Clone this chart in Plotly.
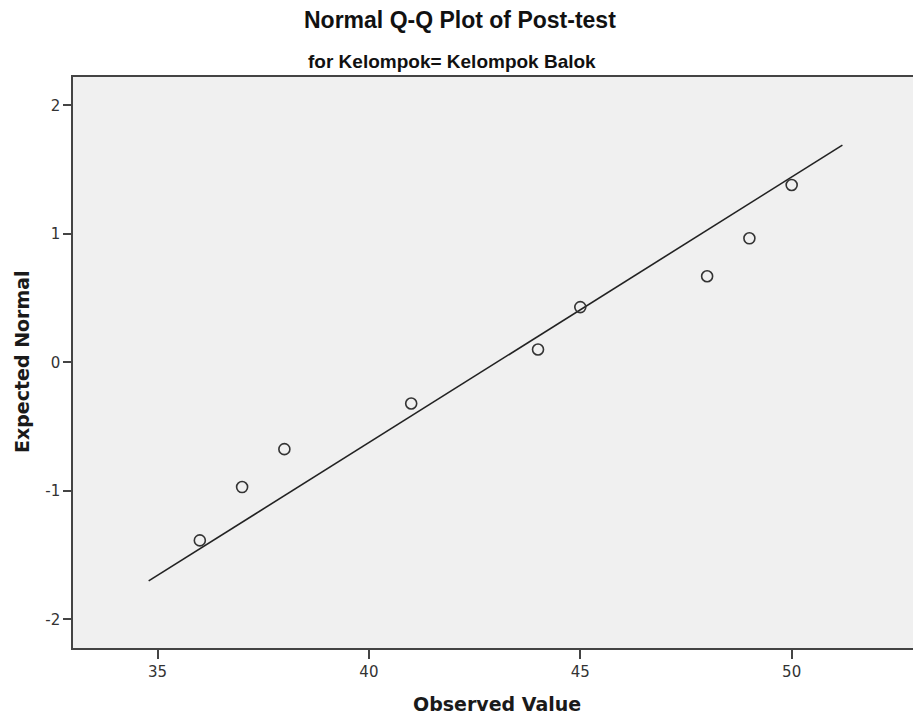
import plotly.graph_objects as go

observed = [36, 37, 38, 41, 44, 45, 48, 49, 50]
expected = [-1.385, -0.97, -0.675, -0.32, 0.10, 0.43, 0.67, 0.965, 1.38]
line_x = [34.79, 51.2]
line_y = [-1.70, 1.69]
x_ticks = [35, 40, 45, 50]
y_ticks = [-2, -1, 0, 1, 2]

W, H = 913, 719
ML, MR, MT, MB = 73, 0, 77, 71
PW, PH = W - ML - MR, H - MT - MB


def px(x):
    return (x - ML) / PW


def py(y):
    return (H - MB - y) / PH


fig = go.Figure()
fig.add_trace(go.Scatter(x=line_x, y=line_y, mode="lines",
                         line=dict(color="#222222", width=1.6), hoverinfo="skip"))
fig.add_trace(go.Scatter(x=observed, y=expected, mode="markers",
                         marker=dict(symbol="circle-open", size=11,
                                     line=dict(color="#333333", width=1.6),
                                     color="#333333")))

title_font = "Liberation Sans, Arial"
label_font = "DejaVu Sans, Verdana"
fig.update_layout(
    width=W, height=H,
    margin=dict(l=ML, r=MR, t=MT, b=MB),
    paper_bgcolor="white", plot_bgcolor="#F0F0F0",
    showlegend=False,
    font=dict(family=label_font, color="#222222", size=14),
    annotations=[
        dict(text="<b>Normal Q-Q Plot of Post-test</b>", x=px(460), y=py(20),
             xref="paper", yref="paper", xanchor="center", yanchor="middle",
             showarrow=False, font=dict(family=title_font, size=23, color="#111111")),
        dict(text="<b>for Kelompok= Kelompok Balok</b>", x=px(452), y=py(62),
             xref="paper", yref="paper", xanchor="center", yanchor="middle",
             showarrow=False, font=dict(family=title_font, size=19, color="#111111")),
        dict(text="<b>Observed Value</b>", x=px(497), y=py(704),
             xref="paper", yref="paper", xanchor="center", yanchor="middle",
             showarrow=False, font=dict(family=label_font, size=19, color="#1a1a1a")),
        dict(text="<b>Expected Normal</b>", x=px(22), y=py(362), textangle=-90,
             xref="paper", yref="paper", xanchor="center", yanchor="middle",
             showarrow=False, font=dict(family=label_font, size=19, color="#1a1a1a")),
    ],
)

fig.update_xaxes(range=[33.0, 52.87], tickvals=x_ticks, ticktext=[str(t) for t in x_ticks],
                 showgrid=False, zeroline=False, showline=True, linecolor="#444444",
                 linewidth=1.5, mirror=True, ticks="outside", ticklen=9, tickwidth=1.5,
                 tickcolor="#444444", tickfont=dict(family=label_font, size=15, color="#333333"))
fig.update_yaxes(range=[-2.222, 2.22], tickvals=y_ticks, ticktext=[str(t) for t in y_ticks],
                 showgrid=False, zeroline=False, showline=True, linecolor="#444444",
                 linewidth=1.5, mirror=False, ticks="outside", ticklen=8, tickwidth=1.5,
                 tickcolor="#444444", tickfont=dict(family=label_font, size=15, color="#333333"))

fig.write_html("out.html")
